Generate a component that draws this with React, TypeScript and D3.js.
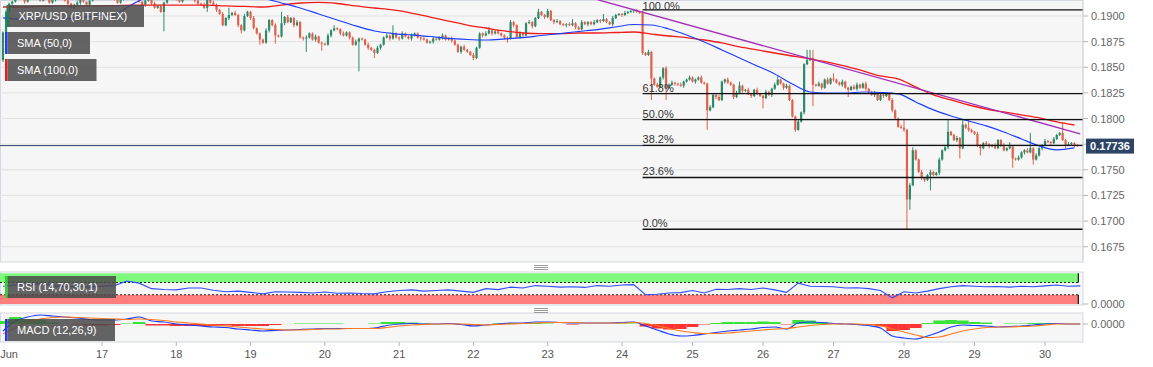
import React from 'react';
import * as d3 from 'd3';

const W = 1153;
const H = 367;
const PLOT_R = 1083;
const FONT = '"Liberation Sans", Arial, Helvetica, sans-serif';

// hourly XRP/USD candles, first bar 2020-06-15 16:00 UTC
const startTime = Date.UTC(2020, 5, 15, 16);
const firstOpen = 0.1857;
const closes = [
  0.1884, 0.1904, 0.1912, 0.1914, 0.1918, 0.1920, 0.1917, 0.1914, 0.1919, 0.1922, 0.1920, 0.1917, 0.1915, 0.1919, 0.1918, 0.1913, 0.1916, 0.1920, 0.1922, 0.1919, 0.1915, 0.1912, 0.1908, 0.1911,
  0.1913, 0.1917, 0.1914, 0.1911, 0.1915, 0.1919, 0.1921, 0.1918, 0.1920, 0.1923, 0.1921, 0.1918, 0.1916, 0.1913, 0.1917, 0.1921, 0.1924, 0.1926, 0.1922, 0.1918, 0.1914, 0.1911, 0.1915, 0.1918,
  0.1912, 0.1908, 0.1910, 0.1904, 0.1913, 0.1918, 0.1921, 0.1919, 0.1916, 0.1914, 0.1919, 0.1922, 0.1919, 0.1917, 0.1915, 0.1912, 0.1911, 0.1908, 0.1916, 0.1913, 0.1911, 0.1906, 0.1902, 0.1891,
  0.1898, 0.1901, 0.1903, 0.1901, 0.1891, 0.1886, 0.1900, 0.1904, 0.1898, 0.1888, 0.1883, 0.1877, 0.1874, 0.1886, 0.1896, 0.1891, 0.1881, 0.1880, 0.1893, 0.1899, 0.1894, 0.1898, 0.1891, 0.1894,
  0.1879, 0.1878, 0.1879, 0.1883, 0.1877, 0.1880, 0.1874, 0.1873, 0.1872, 0.1881, 0.1886, 0.1888, 0.1887, 0.1883, 0.1881, 0.1884, 0.1879, 0.1872, 0.1875, 0.1878, 0.1877, 0.1872, 0.1869, 0.1867,
  0.1864, 0.1869, 0.1872, 0.1879, 0.1881, 0.1878, 0.1883, 0.1879, 0.1878, 0.1883, 0.1880, 0.1878, 0.1881, 0.1883, 0.1879, 0.1878, 0.1877, 0.1874, 0.1875, 0.1878, 0.1877, 0.1879, 0.1881, 0.1877,
  0.1878, 0.1876, 0.1872, 0.1865, 0.1870, 0.1867, 0.1865, 0.1862, 0.1859, 0.1869, 0.1883, 0.1881, 0.1883, 0.1886, 0.1883, 0.1885, 0.1883, 0.1881, 0.1879, 0.1878, 0.1894, 0.1891, 0.1879, 0.1883,
  0.1881, 0.1893, 0.1894, 0.1890, 0.1898, 0.1904, 0.1901, 0.1899, 0.1905, 0.1896, 0.1894, 0.1895, 0.1892, 0.1891, 0.1892, 0.1891, 0.1893, 0.1889, 0.1887, 0.1894, 0.1892, 0.1894, 0.1892, 0.1894,
  0.1896, 0.1895, 0.1897, 0.1894, 0.1892, 0.1898, 0.1901, 0.1902, 0.1901, 0.1903, 0.1904, 0.1905, 0.1906, 0.1904, 0.1903, 0.1864, 0.1862, 0.1865, 0.1839, 0.1833, 0.1831, 0.1840, 0.1849, 0.1830,
  0.1833, 0.1835, 0.1834, 0.1833, 0.1832, 0.1836, 0.1838, 0.1840, 0.1836, 0.1838, 0.1840, 0.1835, 0.1834, 0.1808, 0.1811, 0.1823, 0.1821, 0.1818, 0.1836, 0.1838, 0.1835, 0.1833, 0.1821, 0.1825,
  0.1832, 0.1827, 0.1828, 0.1824, 0.1822, 0.1828, 0.1824, 0.1822, 0.1820, 0.1826, 0.1823, 0.1829, 0.1833, 0.1838, 0.1834, 0.1830, 0.1832, 0.1818, 0.1802, 0.1789, 0.1797, 0.1806, 0.1853, 0.1857,
  0.1859, 0.1833, 0.1832, 0.1834, 0.1830, 0.1838, 0.1834, 0.1839, 0.1838, 0.1835, 0.1833, 0.1836, 0.1830, 0.1828, 0.1831, 0.1829, 0.1833, 0.1830, 0.1834, 0.1829, 0.1826, 0.1823, 0.1825, 0.1818,
  0.1823, 0.1822, 0.1824, 0.1818, 0.1808, 0.1800, 0.1792, 0.1791, 0.1789, 0.1721, 0.1735, 0.1769, 0.1760, 0.1748, 0.1742, 0.1740, 0.1745, 0.1748, 0.1745, 0.1747, 0.1760, 0.1769, 0.1772, 0.1787,
  0.1784, 0.1779, 0.1781, 0.1771, 0.1794, 0.1791, 0.1789, 0.1787, 0.1785, 0.1774, 0.1771, 0.1776, 0.1775, 0.1773, 0.1774, 0.1771, 0.1779, 0.1774, 0.1769, 0.1771, 0.1773, 0.1761, 0.1760, 0.1762,
  0.1767, 0.1769, 0.1767, 0.1771, 0.1760, 0.1764, 0.1771, 0.1774, 0.1778, 0.1777, 0.1776, 0.1780, 0.1784, 0.1786, 0.1779, 0.1774, 0.1775, 0.1776, 0.1774, 0.17736,
];
// wick lengths beyond the body, in 0.0001
const wickUp = [
  1, 2, 1, 1, 2, 1, 0, 1, 2, 1, 1, 2, 1, 1, 0, 2, 1, 1, 2, 1, 1, 2, 1, 1,
  2, 1, 1, 0, 1, 2, 1, 1, 2, 1, 1, 1, 2, 0, 1, 1, 2, 1, 1, 1, 2, 1, 1, 1,
  1, 2, 1, 1, 1, 2, 1, 1, 2, 1, 0, 1, 1, 2, 1, 1, 1, 2, 1, 1, 2, 1, 1, 2,
  1, 7, 1, 2, 1, 1, 2, 1, 1, 2, 1, 1, 1, 2, 1, 1, 2, 1, 11, 1, 2, 1, 1, 2,
  1, 1, 2, 1, 1, 2, 1, 1, 1, 2, 1, 3, 1, 1, 2, 1, 1, 1, 2, 1, 1, 1, 2, 1,
  1, 2, 1, 1, 2, 1, 8, 1, 1, 2, 1, 1, 2, 1, 1, 1, 2, 1, 1, 2, 1, 1, 2, 1,
  1, 2, 1, 1, 1, 2, 1, 1, 2, 1, 1, 1, 2, 3, 1, 1, 2, 1, 1, 1, 2, 1, 1, 2,
  1, 1, 2, 1, 1, 3, 1, 1, 2, 1, 1, 2, 1, 1, 1, 2, 4, 1, 1, 2, 1, 1, 1, 2,
  1, 1, 5, 1, 1, 2, 1, 1, 1, 2, 1, 1, 1, 1, 1, 2, 1, 2, 1, 1, 2, 1, 1, 2,
  1, 2, 1, 1, 2, 1, 1, 2, 1, 1, 1, 2, 1, 1, 2, 1, 1, 2, 1, 1, 2, 1, 1, 2,
  4, 1, 1, 2, 1, 1, 2, 1, 1, 2, 1, 1, 2, 3, 1, 1, 2, 1, 1, 1, 2, 1, 1, 10,
  8, 8, 1, 2, 1, 1, 2, 1, 5, 1, 1, 2, 1, 1, 1, 2, 2, 1, 1, 2, 1, 1, 2, 1,
  1, 2, 1, 1, 2, 1, 1, 2, 8, 1, 2, 3, 1, 1, 2, 1, 1, 2, 1, 1, 2, 1, 1, 12,
  1, 1, 2, 1, 5, 1, 8, 1, 1, 2, 1, 1, 2, 1, 1, 2, 1, 1, 2, 1, 4, 1, 1, 2,
  1, 1, 2, 15, 1, 2, 1, 1, 2, 1, 1, 2, 1, 1, 10, 1, 2, 1, 1, 1,
];
const wickDn = [
  2, 1, 1, 2, 1, 1, 1, 2, 1, 1, 2, 1, 1, 1, 2, 1, 1, 2, 1, 1, 1, 2, 1, 1,
  1, 2, 1, 1, 2, 1, 1, 1, 2, 1, 1, 2, 1, 1, 1, 2, 1, 1, 2, 1, 1, 1, 2, 1,
  1, 1, 1, 1, 19, 1, 1, 2, 1, 1, 1, 2, 1, 1, 2, 1, 1, 1, 4, 1, 1, 2, 1, 1,
  1, 2, 1, 1, 2, 3, 1, 1, 2, 1, 1, 5, 1, 1, 2, 1, 8, 1, 1, 2, 1, 1, 2, 1,
  1, 2, 13, 1, 1, 2, 1, 7, 1, 1, 2, 1, 1, 2, 1, 1, 2, 1, 1, 29, 1, 1, 2, 1,
  5, 1, 2, 1, 1, 2, 1, 1, 2, 1, 1, 1, 2, 1, 1, 2, 1, 1, 1, 2, 1, 1, 2, 1,
  1, 2, 1, 1, 2, 1, 1, 1, 2, 1, 1, 2, 1, 1, 2, 1, 1, 1, 2, 4, 1, 2, 1, 1,
  2, 1, 1, 2, 1, 1, 1, 2, 1, 1, 2, 1, 1, 1, 2, 1, 1, 2, 1, 1, 1, 2, 1, 1,
  1, 2, 1, 1, 1, 2, 1, 1, 2, 1, 1, 1, 2, 1, 1, 2, 1, 1, 21, 1, 1, 1, 2, 12,
  1, 1, 2, 1, 1, 2, 1, 1, 1, 2, 1, 1, 1, 19, 1, 1, 2, 1, 1, 2, 1, 1, 2, 1,
  1, 2, 1, 1, 2, 1, 1, 1, 10, 1, 1, 2, 1, 1, 1, 2, 1, 1, 1, 2, 1, 1, 2, 1,
  1, 21, 1, 1, 2, 1, 1, 1, 2, 1, 1, 2, 1, 7, 1, 1, 2, 1, 1, 2, 1, 1, 2, 1,
  1, 2, 1, 1, 2, 1, 1, 1, 2, 29, 10, 1, 1, 1, 2, 2, 1, 15, 1, 1, 2, 1, 1, 2,
  1, 1, 2, 10, 1, 1, 2, 1, 1, 2, 7, 1, 1, 2, 1, 1, 1, 2, 1, 1, 1, 9, 1, 1,
  1, 2, 1, 1, 5, 1, 1, 2, 1, 1, 2, 1, 1, 1, 1, 3, 1, 1, 2, 1,
];

// moving averages, one value every 6 hours from the first bar
const sma50 = [
  0.18981, 0.18966, 0.18961, 0.18966, 0.18981, 0.19000, 0.19020, 0.19117, 0.19205, 0.19254,
  0.19273, 0.19273, 0.19254, 0.19215, 0.19175, 0.19127, 0.19078, 0.19020, 0.18961, 0.18903,
  0.18854, 0.18829, 0.18815, 0.18800, 0.18781, 0.18771, 0.18766, 0.18776, 0.18790, 0.18810,
  0.18829, 0.18849, 0.18868, 0.18893, 0.18917, 0.18912, 0.18873, 0.18815, 0.18746, 0.18669,
  0.18591, 0.18513, 0.18435, 0.18337, 0.18259, 0.18249, 0.18249, 0.18259, 0.18254, 0.18240,
  0.18162, 0.18084, 0.18025, 0.17976, 0.17928, 0.17869, 0.17801, 0.17733, 0.17694, 0.17713,
];
const sma100 = [
  0.19088, 0.19088, 0.19093, 0.19098, 0.19098, 0.19098, 0.19102, 0.19107, 0.19107, 0.19107,
  0.19107, 0.19107, 0.19098, 0.19093, 0.19088, 0.19107, 0.19127, 0.19132, 0.19122, 0.19098,
  0.19078, 0.19059, 0.19029, 0.18990, 0.18951, 0.18912, 0.18883, 0.18854, 0.18834, 0.18829,
  0.18829, 0.18834, 0.18834, 0.18839, 0.18844, 0.18824, 0.18805, 0.18790, 0.18766, 0.18737,
  0.18698, 0.18669, 0.18639, 0.18610, 0.18581, 0.18551, 0.18512, 0.18464, 0.18415, 0.18386,
  0.18308, 0.18230, 0.18181, 0.18132, 0.18093, 0.18064, 0.18035, 0.18006, 0.17967, 0.17937,
];

// oscillators, one value every 4 hours from the first bar
const rsi = [
  58, 62, 63, 66, 60, 56, 57, 55, 58, 60, 75, 68, 50, 47, 46, 52, 52, 45, 40, 42,
  38, 33, 40, 39, 38, 36, 39, 35, 36, 34, 33, 40, 44, 46, 42, 44, 46, 42, 38, 50,
  47, 55, 52, 60, 58, 55, 56, 54, 60, 58, 62, 63, 30, 32, 36, 37, 44, 36, 48, 47,
  50, 47, 52, 46, 38, 68, 58, 57, 56, 52, 53, 50, 44, 20, 40, 36, 42, 50, 56, 60,
  58, 56, 57, 55, 58, 56, 59, 62, 58, 59,
];
const macd = [
  -7, 3, 7, 9, 8, 7, 6, 4.5, 4, 4, 5, 7, 3, 2, 0, -1, -2, -3, -3.5, -5,
  -6, -7, -6.5, -6, -5.5, -5, -4.5, -4.5, -4.5, -4.5, -4, -1.5, 0, 0.5, 0, 0, 0.5, -0.5, -2, -1,
  0, 1, 1, 2, 2, 1.5, 1, 1, 1, 1, 1.5, 2, -2, -6, -10, -12, -11.5, -10, -8.5, -7,
  -6, -5, -3.5, -3, -5, 1, 2, 1.5, 0.5, 0, -0.5, -1.5, -4, -12, -14, -15, -12, -8, -3, -1,
  -1.5, -2, -3, -2.5, -2, -1, 0, 0.5, 0, 0,
].map(v => v * 1e-4);
const signal = [
  -10, -4, 2, 5, 6.5, 7, 6.5, 6, 5.5, 5, 4.5, 5, 4.5, 3.5, 2, 1, 0, -1, -2, -3,
  -4, -5, -5.5, -6, -6, -5.5, -5, -5, -4.5, -4.5, -4.5, -3.5, -2, -1, -0.5, 0, 0, 0, -0.5, -1,
  -0.5, 0, 0.5, 1, 1.5, 1.5, 1.5, 1, 1, 1, 1, 1.5, 0.5, -1.5, -4.5, -7, -8.5, -9.5, -9.5, -9,
  -8, -7, -6, -5, -4.5, -3, -1.5, -0.5, 0, 0, 0, -0.5, -1.5, -5, -8, -11, -13.5, -13, -10, -7,
  -5, -3.5, -3, -3, -2.5, -2, -1, 0, 0, 0,
].map(v => v * 1e-4);
const hist = [
  3, 7, 5, 4, 1.5, 0, -0.5, -1.5, -1.5, -1, 0.5, 2, -1.5, -1.5, -2, -2, -2, -2, -1.5, -2,
  -2, -2, -1, 0, 0.5, 0.5, 0.5, 0.5, 0, 0, 0.5, 2, 2, 1.5, 0.5, 0, 0.5, -0.5, -1.5, 0,
  0.5, 1, 0.5, 1, 0.5, 0, -0.5, 0, 0, 0, 0.5, 0.5, -2.5, -4.5, -5.5, -5, -3, -0.5, 1, 2,
  2, 2, 2.5, 2, -0.5, 4, 3.5, 2, 0.5, 0, -0.5, -1, -2.5, -7, -6, -4, 1, 3.5, 4, 3.5,
  2, 1.5, 0, 0.5, 0.5, 1, 1, 0.5, 0, 0,
].map(v => v * 1e-4);

const priceTicks = [0.19, 0.1875, 0.185, 0.1825, 0.18, 0.1775, 0.175, 0.1725, 0.17, 0.1675];
const dayTicks = [17, 18, 19, 20, 21, 22, 23, 24, 25, 26, 27, 28, 29, 30];

// fibonacci retracement drawn from the Jun 24 high to the Jun 28 low
const fibHigh = 0.1906;
const fibLow = 0.1692;
const fibRatios = [1, 0.618, 0.5, 0.382, 0.236, 0];
const fibStartHour = 207;
// trend line anchors: [hour index, price]
const trendLine: [number, number][] = [[192, 0.1916], [356, 0.1785]];

const UP = '#2d8a68';
const DOWN = '#e0604b';

const tAt = (h: number) => new Date(startTime + h * 3600 * 1000);

export default function App() {
  const x = d3.scaleUtc()
    .domain([new Date(Date.UTC(2020, 5, 17)), new Date(Date.UTC(2020, 5, 24)), new Date(Date.UTC(2020, 5, 30))])
    .range([102, 622, 1045]);
  const y = d3.scaleLinear().domain([0.1675, 0.19]).range([246.7, 16]);
  const yRsi = d3.scaleLinear().domain([0, 100]).range([304, 273.3]);
  const yMacd = d3.scaleLinear().domain([-0.0018, 0.0011]).range([342, 313]);

  const candles = closes.map((c, i) => {
    const o = i === 0 ? firstOpen : closes[i - 1];
    return {
      t: tAt(i), o, c,
      hi: Math.max(o, c) + wickUp[i] * 1e-4,
      lo: Math.min(o, c) - wickDn[i] * 1e-4,
    };
  });
  const last = closes[closes.length - 1];
  const xEnd = x(tAt(closes.length - 1)) + 1;

  const smaLine = d3.line<number>().x((_, i) => x(tAt(i * 6))).y(v => y(v)).curve(d3.curveMonotoneX);
  const rsiLine = d3.line<number>().x((_, i) => x(tAt(i * 4))).y(v => yRsi(v));
  const macdLine = d3.line<number>().x((_, i) => x(tAt(i * 4))).y(v => yMacd(v)).curve(d3.curveMonotoneX);

  const fibX0 = x(tAt(fibStartHour));

  const legend = (lx: number, ly: number, w: number, accent: string, label: string, key: string) => (
    <g key={key}>
      <rect x={lx - 2.5} y={ly} width={2.5} height={22} fill={accent} />
      <rect x={lx} y={ly} width={w} height={22} fill="#4a4a4a" opacity={0.86} />
      <text x={lx + 9.5} y={ly + 15} fill="#fff" fontSize={11} fontFamily={FONT}>{label}</text>
    </g>
  );

  return (
    <svg width={W} height={H} style={{ position: 'absolute', left: 0, top: 0, background: '#fff' }}>
      <defs>
        <clipPath id="mainClip"><rect x={0} y={0} width={PLOT_R} height={262} /></clipPath>
        <clipPath id="rsiClip"><rect x={0} y={272} width={PLOT_R} height={33} /></clipPath>
        <clipPath id="macdClip"><rect x={0} y={313} width={PLOT_R} height={29} /></clipPath>
      </defs>

      {/* panels */}
      <rect x={0.5} y={0.5} width={PLOT_R - 0.5} height={261.5} fill="#f6f6f6" stroke="#d3d8e3" />
      <rect x={0.5} y={272} width={PLOT_R - 0.5} height={33} fill="#f6f6f6" stroke="#d3d8e3" />
      <rect x={0.5} y={313} width={PLOT_R - 0.5} height={29} fill="#f6f6f6" stroke="#d3d8e3" />

      {/* main price panel */}
      <g clipPath="url(#mainClip)">
        {priceTicks.map(v => (
          <line key={v} x1={0} x2={PLOT_R} y1={y(v)} y2={y(v)} stroke="#e2e2e2" />
        ))}
        <line x1={0} x2={PLOT_R} y1={y(last)} y2={y(last)} stroke="#2c4466" strokeWidth={1} />
        {candles.map((d, i) => {
          const cx = x(d.t);
          const col = d.c >= d.o ? UP : DOWN;
          const top = y(Math.max(d.o, d.c));
          const bot = y(Math.min(d.o, d.c));
          return (
            <g key={i}>
              <line x1={cx} x2={cx} y1={y(d.hi)} y2={y(d.lo)} stroke={col} strokeWidth={1} />
              <rect x={cx - 1.1} y={top} width={2.2} height={Math.max(1, bot - top)} fill={col} />
            </g>
          );
        })}
        <path d={smaLine(sma100) || ''} fill="none" stroke="#f01c1c" strokeWidth={1.3} />
        <path d={smaLine(sma50) || ''} fill="none" stroke="#1d3cff" strokeWidth={1.2} />
        <line
          x1={x(tAt(trendLine[0][0]))} y1={y(trendLine[0][1])}
          x2={x(tAt(trendLine[1][0]))} y2={y(trendLine[1][1])}
          stroke="#a22cb8" strokeWidth={1.3}
        />
        {fibRatios.map(r => {
          const fy = y(fibLow + r * (fibHigh - fibLow));
          return <line key={r} x1={fibX0} x2={PLOT_R} y1={fy} y2={fy} stroke="#111" strokeWidth={1.3} />;
        })}
      </g>
      {fibRatios.map(r => {
        const fy = y(fibLow + r * (fibHigh - fibLow));
        return (
          <text key={r} x={fibX0} y={Math.max(fy - 2, 9.5)} fontSize={11} fill="#333" fontFamily={FONT}>
            {d3.format('.1f')(r * 100)}%
          </text>
        );
      })}

      {legend(9, 5, 135, '#257a59', 'XRP/USD (BITFINEX)', 'l1')}
      {legend(7.5, 32, 82.5, '#1d3cff', 'SMA (50,0)', 'l2')}
      {legend(7.5, 59, 89, '#f01c1c', 'SMA (100,0)', 'l3')}

      {/* RSI panel */}
      <g clipPath="url(#rsiClip)">
        <rect x={0} y={yRsi(100)} width={xEnd} height={yRsi(70) - yRsi(100)} fill="#7ef97e" />
        <rect x={0} y={yRsi(30)} width={xEnd} height={yRsi(0) - yRsi(30)} fill="#ff7f7f" />
        <line x1={0} x2={xEnd} y1={yRsi(70)} y2={yRsi(70)} stroke="#222" strokeDasharray="2,2" />
        <line x1={0} x2={xEnd} y1={yRsi(30)} y2={yRsi(30)} stroke="#222" strokeDasharray="2,2" />
        <line x1={xEnd} x2={xEnd} y1={yRsi(100)} y2={yRsi(70)} stroke="#111" strokeWidth={1.2} />
        <line x1={xEnd} x2={xEnd} y1={yRsi(30)} y2={yRsi(0)} stroke="#111" strokeWidth={1.2} />
        <path d={rsiLine(rsi) || ''} fill="none" stroke="#2f4cff" strokeWidth={1.1} />
      </g>
      {legend(7.5, 276, 108.5, '#1fe01f', 'RSI (14,70,30,1)', 'l4')}

      {/* MACD panel */}
      <g clipPath="url(#macdClip)">
        {hist.map((v, i) => {
          const x0 = x(tAt(i * 4 - 2));
          const x1 = x(tAt(i * 4 + 2));
          return (
            <rect key={i} x={x0} width={x1 - x0} y={Math.min(yMacd(0), yMacd(v))}
              height={Math.abs(yMacd(v) - yMacd(0))} fill={v >= 0 ? '#25e025' : '#ff1f1f'} opacity={0.9} />
          );
        })}
        <path d={macdLine(macd) || ''} fill="none" stroke="#1d3cff" strokeWidth={1.2} />
        <path d={macdLine(signal) || ''} fill="none" stroke="#ff7a1f" strokeWidth={1.2} />
      </g>
      {legend(7.5, 319, 107.5, '#1d3cff', 'MACD (12,26,9)', 'l5')}

      {/* pane handles */}
      {[265.5, 308.5].map(hy => (
        <g key={hy} stroke="#9a9a9a" strokeWidth={1}>
          {[0, 2, 4].map(o => <line key={o} x1={534} x2={548} y1={hy + o} y2={hy + o} />)}
        </g>
      ))}

      {/* right axis */}
      <line x1={PLOT_R} x2={PLOT_R} y1={0} y2={262} stroke="#d3d8e3" />
      {priceTicks.map(v => (
        <g key={v}>
          <line x1={PLOT_R} x2={PLOT_R + 5} y1={y(v)} y2={y(v)} stroke="#b5b5b5" />
          {Math.abs(y(v) - y(last)) > 10 && (
            <text x={PLOT_R + 8} y={y(v) + 4} fontSize={11} fill="#666" fontFamily={FONT}>{d3.format('.4f')(v)}</text>
          )}
        </g>
      ))}
      <rect x={1086} y={y(last) - 7} width={48} height={15} fill="#2c4466" />
      <text x={1110} y={y(last) + 4} textAnchor="middle" fontSize={11} fontWeight="bold" fill="#fff" fontFamily={FONT}>
        {d3.format('.5f')(last)}
      </text>
      <line x1={PLOT_R} x2={PLOT_R + 5} y1={yRsi(0)} y2={yRsi(0)} stroke="#b5b5b5" />
      <text x={PLOT_R + 8} y={yRsi(0) + 4} fontSize={11} fill="#666" fontFamily={FONT}>0.0000</text>
      <line x1={PLOT_R} x2={PLOT_R + 5} y1={yMacd(0)} y2={yMacd(0)} stroke="#b5b5b5" />
      <text x={PLOT_R + 8} y={yMacd(0) + 4} fontSize={11} fill="#666" fontFamily={FONT}>0.0000</text>

      {/* bottom axis */}
      <text x={9} y={358} textAnchor="middle" fontSize={11} fill="#555" fontFamily={FONT}>Jun</text>
      {dayTicks.map(d => {
        const tx = x(new Date(Date.UTC(2020, 5, d)));
        return (
          <g key={d}>
            <line x1={tx} x2={tx} y1={342} y2={346} stroke="#b5b5b5" />
            <text x={tx} y={358} textAnchor="middle" fontSize={11} fill="#555" fontFamily={FONT}>{d}</text>
          </g>
        );
      })}
    </svg>
  );
}
